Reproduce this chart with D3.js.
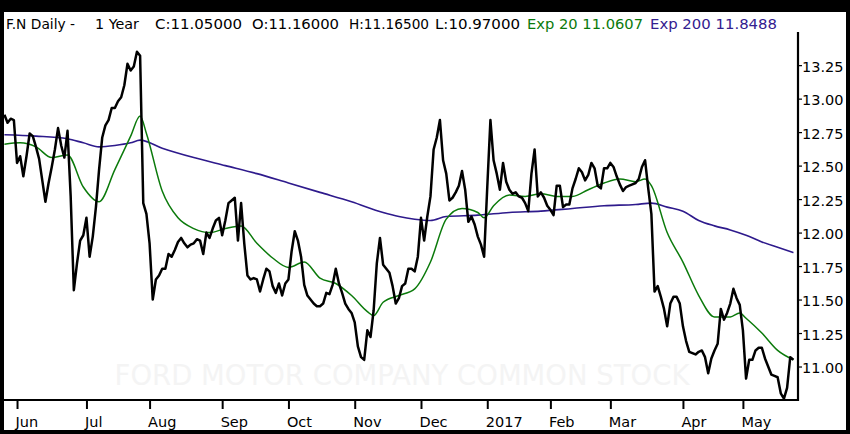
<!DOCTYPE html>
<html><head><meta charset="utf-8">
<script src="https://cdn.jsdelivr.net/npm/d3@7/dist/d3.min.js"></script>
<style>
html,body{margin:0;padding:0;background:#000;}
svg{display:block;}
text{font-family:"DejaVu Sans",Verdana,sans-serif;}
</style></head><body>
<svg id="c" width="850" height="434"></svg>
<script>
// ---- data (F.N daily, ~May 25 2016 .. May 23 2017, trading-day index) ----
const closeValues = [
12.88,12.82,12.85,12.84,12.52,12.57,12.42,12.57,12.74,12.72,
12.64,12.55,12.39,12.23,12.37,12.49,12.62,12.78,12.65,12.56,
12.76,12.27,11.57,11.77,11.94,11.98,12.11,11.82,11.97,12.19,
12.47,12.71,12.80,12.84,12.93,12.93,12.98,13.01,13.10,13.26,
13.21,13.24,13.35,13.32,12.22,12.14,11.92,11.50,11.65,11.68,
11.73,11.73,11.84,11.82,11.87,11.93,11.96,11.92,11.89,11.91,
11.92,11.95,11.94,11.84,12.00,11.96,12.03,12.09,12.11,11.98,
12.09,12.22,12.24,12.26,11.94,12.22,11.92,11.68,11.65,11.66,
11.65,11.56,11.65,11.73,11.71,11.60,11.55,11.62,11.53,11.62,
11.65,11.86,12.01,11.94,11.82,11.61,11.53,11.50,11.47,11.45,
11.45,11.47,11.55,11.54,11.61,11.73,11.62,11.55,11.47,11.43,
11.40,11.33,11.15,11.07,11.05,11.27,11.22,11.42,11.77,11.96,
11.76,11.73,11.70,11.60,11.47,11.51,11.60,11.62,11.73,11.73,
11.71,11.82,12.11,11.94,12.12,12.27,12.62,12.71,12.84,12.54,
12.44,12.24,12.26,12.30,12.35,12.46,12.32,12.08,12.12,12.06,
11.97,11.91,11.82,12.34,12.84,12.54,12.44,12.32,12.52,12.38,
12.32,12.29,12.30,12.27,12.26,12.22,12.16,12.44,12.62,12.27,
12.30,12.26,12.20,12.17,12.13,12.35,12.35,12.19,12.21,12.21,
12.33,12.40,12.48,12.45,12.39,12.43,12.52,12.48,12.35,12.33,
12.48,12.48,12.52,12.49,12.42,12.36,12.31,12.34,12.35,12.36,
12.37,12.40,12.49,12.54,12.33,12.14,11.56,11.60,11.52,11.43,
11.30,11.47,11.52,11.52,11.47,11.30,11.19,11.11,11.10,11.09,
11.11,11.12,11.07,10.95,11.06,11.12,11.17,11.43,11.35,11.40,
11.47,11.58,11.51,11.46,11.27,10.91,11.05,11.05,11.12,11.14,
11.14,11.06,11.00,10.94,10.93,10.92,10.80,10.76,10.84,11.07,
11.05
];
const ema20Idx = [0,5,10,15,20,25,30,35,40,43,45,50,55,60,65,70,75,80,85,90,95,100,105,110,115,117,120,125,130,135,140,145,150,152,155,160,165,170,175,180,185,190,195,200,203,205,210,215,220,225,230,233,235,240,245,250];
const ema20Val = [12.66,12.67,12.64,12.56,12.58,12.34,12.23,12.47,12.72,12.87,12.74,12.31,12.11,12.03,12.00,12.03,12.05,11.92,11.81,11.74,11.78,11.66,11.62,11.53,11.41,11.38,11.48,11.53,11.58,11.78,12.10,12.18,12.15,12.11,12.20,12.28,12.27,12.29,12.27,12.27,12.32,12.37,12.40,12.38,12.40,12.35,12.00,11.78,11.53,11.37,11.37,11.40,11.36,11.25,11.12,11.05];
const ema200Idx = [0,10,20,25,30,35,40,43,50,60,70,80,90,100,110,120,125,130,135,140,150,160,170,180,190,200,205,210,215,220,225,230,235,240,245,250];
const ema200Val = [12.73,12.72,12.70,12.67,12.64,12.65,12.67,12.69,12.63,12.56,12.50,12.44,12.37,12.30,12.23,12.15,12.12,12.10,12.09,12.12,12.13,12.15,12.16,12.18,12.20,12.21,12.22,12.19,12.16,12.09,12.05,12.02,11.98,11.93,11.89,11.85];
const monthLabels = ["Jun","Jul","Aug","Sep","Oct","Nov","Dec","2017","Feb","Mar","Apr","May"];
const monthIdx = [4,26,46,69,90,111,132,153,173,192,215,234];
const yTicks = [11.00,11.25,11.50,11.75,12.00,12.25,12.50,12.75,13.00,13.25];
const headerParts = [
  {t:"F.N Daily -", x:6, w:69, c:"#000"},
  {t:"1 Year", x:95, w:44, c:"#000"},
  {t:"C:11.05000", x:155, w:87, c:"#000"},
  {t:"O:11.16000", x:252, w:87, c:"#000"},
  {t:"H:11.16500", x:349, w:80, c:"#000"},
  {t:"L:10.97000", x:435, w:85, c:"#000"},
  {t:"Exp 20 11.0607", x:527, w:116, c:"#0b7a0b"},
  {t:"Exp 200 11.8488", x:650, w:127, c:"#33208f"}
];
const watermark = "FORD MOTOR COMPANY COMMON STOCK";

const svg = d3.select("#c");
// frame
svg.append("rect").attr("x",0).attr("y",0).attr("width",850).attr("height",434).attr("fill","#000");
svg.append("rect").attr("x",4).attr("y",12).attr("width",842).attr("height",418).attr("fill","#fff");

const x = d3.scaleLinear().domain([0,250]).range([4.4,793.4]);
const y = d3.scaleLinear().domain([10.75,13.49]).range([400,33]);

// watermark
svg.append("text").attr("x",402).attr("y",385).attr("text-anchor","middle")
  .attr("font-size",27.5).attr("fill","#f4f4f4").text(watermark);

// header
svg.selectAll("text.hdr").data(headerParts).enter().append("text").attr("class","hdr")
  .attr("x",d=>d.x).attr("y",28.5).attr("font-size",14).attr("fill",d=>d.c)
  .attr("textLength",d=>d.w).attr("lengthAdjust","spacingAndGlyphs").text(d=>d.t);

// lines
svg.append("path").datum(ema200Idx.map((i,k)=>[i,ema200Val[k]]))
  .attr("d",d3.line().x(d=>x(d[0])).y(d=>y(d[1])).curve(d3.curveMonotoneX))
  .attr("fill","none").attr("stroke","#2e1a8c").attr("stroke-width",1.6);
svg.append("path").datum(ema20Idx.map((i,k)=>[i,ema20Val[k]]))
  .attr("d",d3.line().x(d=>x(d[0])).y(d=>y(d[1])).curve(d3.curveMonotoneX))
  .attr("fill","none").attr("stroke","#0b7a0b").attr("stroke-width",1.5);
svg.append("path").datum(closeValues.map((v,i)=>[i,v]))
  .attr("d",d3.line().x(d=>x(d[0])).y(d=>y(d[1]))).attr("fill","none").attr("stroke","#000")
  .attr("stroke-width",2.5).attr("stroke-linejoin","round");

// axes
const gx = svg.append("g").attr("transform","translate(0,400)")
  .call(d3.axisBottom(x).tickValues(monthIdx).tickSize(9).tickFormat((d,i)=>monthLabels[i]));
gx.select(".domain").remove();
gx.selectAll(".tick line").attr("stroke","#000").attr("stroke-width",2);
gx.selectAll(".tick text").attr("text-anchor","start").attr("x",-2).attr("y",27).attr("dy",0)
  .attr("font-size",14.5).attr("fill","#000").style("font-family","DejaVu Sans");

const gy = svg.append("g").attr("transform","translate(798,0)")
  .call(d3.axisRight(y).tickValues(yTicks).tickSize(4).tickFormat(d3.format(".2f")));
gy.select(".domain").remove();
gy.selectAll(".tick line").attr("stroke","#000").attr("stroke-width",1.2);
gy.selectAll(".tick text").attr("x",4).attr("dy","0.42em")
  .attr("font-size",14.5).attr("fill","#000").style("font-family","DejaVu Sans");

svg.append("line").attr("x1",4).attr("x2",799).attr("y1",400).attr("y2",400).attr("stroke","#000").attr("stroke-width",2.2);
svg.append("line").attr("x1",798).attr("x2",798).attr("y1",32).attr("y2",401).attr("stroke","#000").attr("stroke-width",2.2);
</script>
</body></html>
